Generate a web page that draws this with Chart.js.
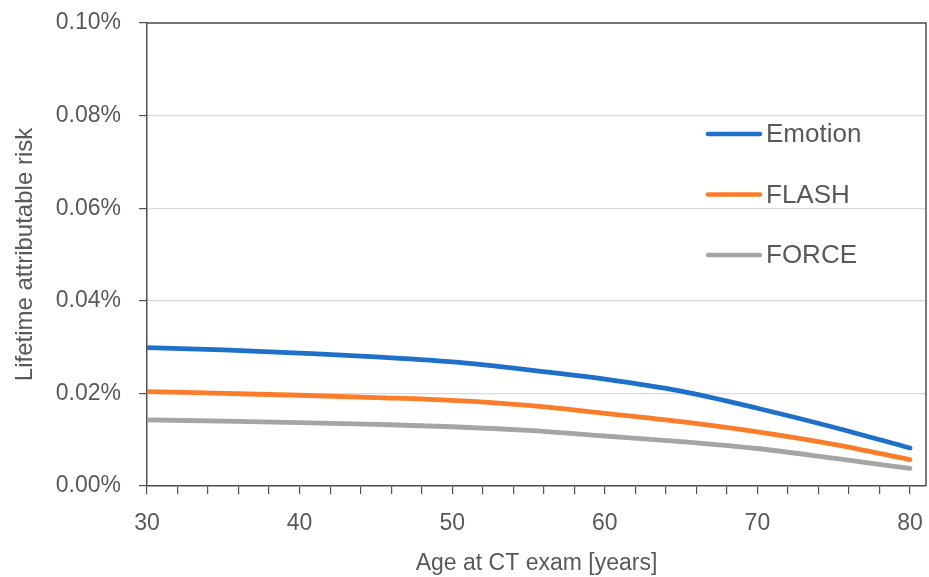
<!DOCTYPE html>
<html>
<head>
<meta charset="utf-8">
<script src="https://cdn.jsdelivr.net/npm/chart.js@4"></script>
<style>
  html, body { margin: 0; padding: 0; background: #fff; }
</style>
</head>
<body>
<canvas id="chart" width="929" height="577"></canvas>
<script>
// values (lifetime attributable risk, in %)
const ages = [30, 35, 40, 45, 50, 55, 60, 65, 70, 75, 80];
const emotion = [0.0299, 0.0294, 0.0287, 0.0279, 0.0268, 0.0251, 0.0231, 0.0205, 0.0168, 0.0127, 0.0082];
const flash = [0.0204, 0.0200, 0.0196, 0.0191, 0.0185, 0.0174, 0.0157, 0.0139, 0.0117, 0.0090, 0.0057];
const force = [0.0143, 0.0140, 0.0137, 0.0133, 0.0128, 0.0120, 0.0108, 0.0096, 0.0081, 0.0060, 0.0038];
const seriesNames = ["Emotion", "FLASH", "FORCE"];
const seriesColors = ["#1f70c9", "#fb7d2a", "#a5a5a5"];
const xTicks = [30, 32, 34, 36, 38, 40, 42, 44, 46, 48, 50, 52, 54, 56, 58, 60, 62, 64, 66, 68, 70, 72, 74, 76, 78, 80];
const yTicks = [0, 0.02, 0.04, 0.06, 0.08, 0.10];

const FONT = "'Liberation Sans', Arial, sans-serif";
const TEXT = "#595959";
const AXIS = "#505050";

function toPoints(values) {
  return ages.map((a, i) => ({ x: a, y: values[i] }));
}

// legend sits inside the plot, Excel style
const insideLegend = {
  id: "insideLegend",
  afterDatasetsDraw(chart) {
    const ctx = chart.ctx;
    ctx.save();
    ctx.font = "26px " + FONT;
    ctx.textBaseline = "middle";
    ctx.textAlign = "left";
    chart.data.datasets.forEach((ds, i) => {
      const y = 134 + i * 60.5;
      ctx.strokeStyle = ds.borderColor;
      ctx.lineWidth = 4.5;
      ctx.lineCap = "round";
      ctx.beginPath();
      ctx.moveTo(708, y);
      ctx.lineTo(760, y);
      ctx.stroke();
      ctx.fillStyle = TEXT;
      ctx.fillText(ds.label, 766, y + 1);
    });
    ctx.restore();
  }
};

// box round the plot area
const plotBox = {
  id: "plotBox",
  beforeDatasetsDraw(chart) {
    const { left, top, right, bottom } = chart.chartArea;
    const ctx = chart.ctx;
    ctx.save();
    ctx.strokeStyle = AXIS;
    ctx.lineWidth = 1.5;
    ctx.beginPath();
    ctx.moveTo(left, top);
    ctx.lineTo(right, top);
    ctx.lineTo(right, bottom);
    ctx.stroke();
    ctx.restore();
  }
};

const datasets = [emotion, flash, force].map((vals, i) => ({
  label: seriesNames[i],
  data: toPoints(vals),
  borderColor: seriesColors[i],
  backgroundColor: seriesColors[i],
  borderWidth: 4.8,
  pointRadius: 0,
  cubicInterpolationMode: "monotone",
  borderCapStyle: "round",
  fill: false
}));

new Chart(document.getElementById("chart"), {
  type: "line",
  data: { datasets: datasets },
  options: {
    responsive: false,
    animation: false,
    layout: { padding: { top: 23, right: 3, left: 0, bottom: 0 } },
    plugins: {
      legend: { display: false },
      tooltip: { enabled: false }
    },
    scales: {
      x: {
        type: "linear",
        min: 30,
        max: 81.05,
        afterBuildTicks: (scale) => {
          scale.ticks = xTicks.map(v => ({ value: v }));
        },
        afterFit: (scale) => {
          scale.height = 91;
          scale.paddingLeft = 0;
          scale.paddingRight = 0;
        },
        ticks: {
          autoSkip: false,
          maxRotation: 0,
          padding: 16,
          color: TEXT,
          font: { family: FONT, size: 23 },
          callback: (v) => (v % 10 === 0 ? String(v) : "")
        },
        grid: {
          drawOnChartArea: false,
          drawTicks: true,
          tickLength: 8,
          color: AXIS,
          lineWidth: 1.2
        },
        border: { color: AXIS, width: 1.5 },
        title: {
          display: true,
          text: "Age at CT exam [years]",
          color: TEXT,
          font: { family: FONT, size: 23 },
          padding: { top: 4, bottom: 0 }
        }
      },
      y: {
        min: 0,
        max: 0.1,
        afterBuildTicks: (scale) => {
          scale.ticks = yTicks.map(v => ({ value: v }));
        },
        afterFit: (scale) => {
          scale.width = 147;
          scale.paddingTop = 0;
          scale.paddingBottom = 0;
        },
        ticks: {
          padding: 18,
          color: TEXT,
          font: { family: FONT, size: 23 },
          callback: (v) => v.toFixed(2) + "%"
        },
        grid: {
          color: "#d9d9d9",
          lineWidth: 1.2,
          tickColor: AXIS,
          tickLength: 8
        },
        border: { color: AXIS, width: 1.5 },
        title: {
          display: true,
          text: "Lifetime attributable risk",
          color: TEXT,
          font: { family: FONT, size: 24 },
          padding: { top: 11, bottom: 0 }
        }
      }
    }
  },
  plugins: [plotBox, insideLegend]
});
</script>
</body>
</html>
